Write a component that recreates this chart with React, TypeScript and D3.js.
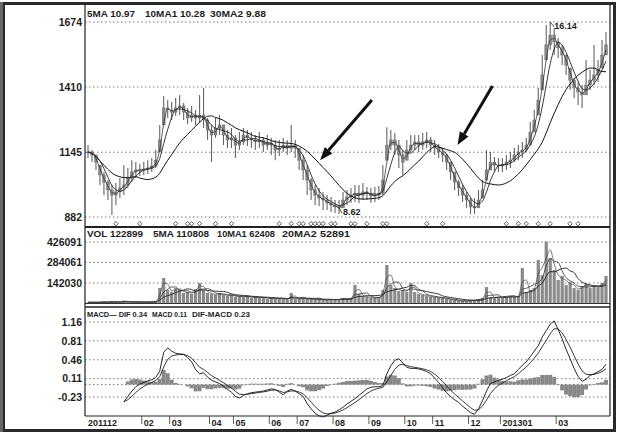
import React from 'react';
import * as d3 from 'd3';

// ---------- data ----------
const closes = [
  11.46, 11.34, 11.05, 10.53, 10.24, 9.92, 9.71, 9.84, 10.0, 10.12,
  10.4, 10.65, 10.73, 10.73, 10.77, 10.81, 10.89, 11.13, 11.95, 13.25,
  13.17, 13.08, 13.25, 13.33, 13.08, 12.84, 12.96, 12.84, 12.96, 12.76,
  12.35, 12.15, 12.43, 12.56, 12.15, 11.95, 12.03, 11.74, 11.87, 12.15,
  12.03, 11.95, 11.87, 11.95, 11.74, 11.83, 11.74, 11.54, 11.62, 11.74,
  11.62, 11.74, 11.62, 11.13, 10.73, 10.32, 9.92, 9.71, 9.59, 9.51,
  9.39, 9.31, 9.23, 9.19, 9.51, 9.63, 9.71, 9.79, 9.71, 9.84,
  9.79, 9.67, 9.71, 9.79, 10.32, 11.74, 11.95, 11.74, 11.34, 11.05,
  11.54, 11.74, 11.87, 11.74, 11.87, 11.95, 11.74, 11.62, 11.46, 11.34,
  11.05, 10.65, 10.24, 10.0, 9.71, 9.51, 9.23, 9.19, 9.51, 9.92,
  10.73, 11.05, 10.93, 10.89, 10.93, 11.05, 11.13, 11.34, 11.46, 11.54,
  11.74, 12.27, 12.76, 13.57, 14.59, 15.81, 16.21, 15.93, 15.69, 15.4,
  14.99, 14.38, 14.06, 13.9, 13.78, 14.18, 14.38, 14.59, 14.79, 15.4, 15.81,
];
const highs = [
  11.74, 11.54, 11.34, 10.93, 10.65, 10.32, 10.12, 10.2, 10.4, 10.93,
  10.81, 11.13, 11.05, 10.97, 11.05, 11.13, 11.22, 11.54, 12.56, 13.73,
  13.57, 13.49, 13.65, 13.78, 13.45, 13.25, 13.33, 13.17, 13.78, 14.06,
  12.84, 12.56, 12.84, 12.96, 12.56, 12.35, 12.43, 12.15, 12.27, 12.43,
  12.35, 12.27, 12.15, 12.27, 12.07, 12.15, 12.03, 11.95, 11.95, 12.03,
  11.95, 12.56, 11.95, 11.62, 11.34, 10.93, 10.4, 10.12, 10.0, 9.84,
  9.71, 9.63, 9.51, 9.51, 9.84, 9.92, 10.0, 10.12, 10.12, 10.2,
  10.04, 10.0, 10.04, 10.08, 10.93, 12.47, 12.35, 12.23, 11.95, 11.54,
  11.95, 12.15, 12.15, 12.15, 12.23, 12.27, 12.07, 11.95, 11.79, 11.62,
  11.38, 11.05, 10.65, 10.32, 10.12, 9.84, 9.59, 9.59, 9.92, 10.32,
  11.54, 11.46, 11.26, 11.22, 11.22, 11.34, 11.46, 11.62, 11.74, 11.87,
  12.03, 12.68, 13.17, 14.06, 15.4, 16.62, 16.74, 16.5, 16.09, 15.81,
  15.4, 14.87, 14.47, 14.3, 14.18, 15.2, 14.79, 15.81, 15.2, 16.01, 16.33,
];
const lows = [
  11.22, 11.05, 10.73, 10.12, 9.71, 9.51, 8.9, 9.31, 9.59, 9.71,
  10.0, 10.24, 10.4, 10.49, 10.53, 10.57, 10.65, 10.81, 11.46, 12.56,
  12.84, 12.76, 12.92, 12.96, 12.76, 12.6, 12.68, 12.56, 12.64, 12.43,
  11.95, 11.05, 12.03, 12.15, 11.74, 11.62, 11.62, 11.22, 11.54, 11.74,
  11.7, 11.62, 11.54, 11.62, 11.46, 11.54, 11.34, 11.13, 11.3, 11.46,
  11.34, 11.46, 11.22, 10.73, 10.32, 9.71, 9.51, 9.31, 9.27, 9.1,
  9.1, 9.02, 8.98, 8.94, 9.19, 9.31, 9.39, 9.43, 9.39, 9.51,
  9.51, 9.39, 9.43, 9.51, 9.71, 11.13, 11.54, 11.34, 10.81, 10.53,
  11.13, 11.46, 11.54, 11.46, 11.54, 11.62, 11.46, 11.34, 11.22, 11.05,
  10.73, 10.32, 9.92, 9.67, 9.43, 9.19, 8.94, 8.94, 9.19, 9.59,
  10.32, 10.73, 10.65, 10.65, 10.65, 10.73, 10.81, 11.05, 11.13, 11.22,
  11.46, 11.74, 12.27, 12.96, 13.98, 15.2, 15.6, 15.4, 15.28, 14.99,
  14.59, 13.98, 13.65, 13.37, 13.25, 13.78, 13.98, 14.18, 14.3, 14.87, 15.4,
];
const volumes = [
  8000, 9000, 7000, 10000, 12000, 9000, 15000, 11000, 9000, 20000,
  10000, 9000, 8000, 11000, 9000, 10000, 12000, 15000, 107000, 177000,
  94000, 80000, 107000, 94000, 73000, 80000, 66000, 100000, 142000, 94000,
  73000, 66000, 59000, 73000, 59000, 52000, 59000, 45000, 52000, 45000,
  52000, 38000, 45000, 38000, 45000, 31000, 38000, 31000, 38000, 31000,
  24000, 73000, 31000, 31000, 38000, 31000, 31000, 24000, 31000, 24000,
  24000, 31000, 24000, 31000, 38000, 31000, 38000, 128000, 66000, 52000,
  45000, 38000, 38000, 45000, 94000, 267000, 128000, 107000, 87000, 94000,
  80000, 142000, 80000, 66000, 59000, 52000, 45000, 45000, 38000, 38000,
  31000, 24000, 24000, 17000, 17000, 17000, 24000, 24000, 31000, 38000,
  114000, 45000, 38000, 45000, 38000, 45000, 52000, 45000, 52000, 246000,
  80000, 94000, 107000, 301000, 197000, 430000, 315000, 232000, 163000, 191000,
  128000, 149000, 107000, 94000, 121000, 135000, 107000, 128000, 114000, 142000, 191000,
];
const difValues: (number | null)[] = [
  null, null, null, null, null, null, null, null, null,
  -0.32, -0.22, -0.12, -0.04, 0.01, 0.04, 0.07, 0.09, 0.13, 0.25, 0.6,
  0.68, 0.62, 0.58, 0.57, 0.56, 0.5, 0.42, 0.28, 0.2, 0.22,
  0.14, 0.08, 0.05, 0.02, -0.03, -0.09, -0.14, -0.22, -0.25, -0.2,
  -0.17, -0.15, -0.14, -0.13, -0.12, -0.1, -0.08, -0.09, -0.14, -0.19,
  -0.12, -0.09, -0.12, -0.17, -0.22, -0.35, -0.45, -0.53, -0.58, -0.6,
  -0.57, -0.53, -0.51, -0.47, -0.42, -0.36, -0.31, -0.26, -0.2, -0.14,
  -0.08, -0.05, -0.04, -0.04, -0.02, 0.2, 0.35, 0.45, 0.48, 0.4,
  0.32, 0.3, 0.3, 0.29, 0.27, 0.24, 0.2, 0.12, 0.04, -0.06,
  -0.15, -0.22, -0.28, -0.33, -0.4, -0.46, -0.52, -0.55, -0.45, -0.3,
  -0.12, 0.02, 0.05, 0.08, 0.1, 0.13, 0.17, 0.2, 0.28, 0.36,
  0.42, 0.52, 0.62, 0.72, 0.88, 1.0, 1.12, 1.18, 1.02, 0.85,
  0.65, 0.48, 0.3, 0.15, 0.06, 0.1, 0.17, 0.2, 0.24, 0.28, 0.38,
];
const signalIdx = [7, 13, 22, 25, 26, 28, 32, 36, 48, 51, 53, 54, 56, 57, 58, 59, 61, 62, 66, 67, 70, 74, 75, 85, 89, 105, 108, 110, 113, 116, 121, 123];

const priceTicks = [16.74, 14.1, 11.45, 8.82];
const priceTickLabels = ['1674', '1410', '1145', '882'];
const volTicks = [426091, 284061, 142030];
const volTickLabels = ['426091', '284061', '142030'];
const macdTicks = [1.16, 0.81, 0.46, 0.11, -0.23];
const macdTickLabels = ['1.16', '0.81', '0.46', '0.11', '-0.23'];
const monthIdx = [0, 14, 21, 31, 37, 46, 53, 62, 71, 80, 87, 96, 104, 118];
const monthLabels = ['201112', '02', '03', '04', '05', '06', '07', '08', '09', '10', '11', '12', '201301', '03'];

const priceLegend = ['5MA 10.97', '10MA1 10.28', '30MA2 9.88'];
const volLegend = ['VOL 122899', '5MA 110808', '10MA1 62408', '20MA2 52891'];
const macdLegend = ['MACD— DIF 0.34', 'MACD 0.11', 'DIF-MACD 0.23'];

// annotation arrows in data space: [fromIndex, fromPrice, toIndex, toPrice]
const arrows = [
  [71.25, 13.57, 58.25, 11.13],
  [101.5, 14.14, 92.75, 11.74],
];
const highMarkIdx = 116;
const highMarkLabel = '16.14';
const lowMarkIdx = 63;
const lowMarkLabel = '8.62';

// ---------- helpers ----------
const ma = (arr: number[], n: number) =>
  arr.map((_, i) => d3.mean(arr.slice(Math.max(0, i - n + 1), i + 1)) as number);

const dea: (number | null)[] = (() => {
  let prev: number | null = null;
  return difValues.map((v) => {
    if (v == null) return null;
    prev = prev == null ? v : prev + 0.4 * (v - prev);
    return prev;
  });
})();
const hist = difValues.map((v, i) => (v == null ? null : v - (dea[i] as number)));

const FONT = '"Liberation Sans", Arial, sans-serif';
const INK = '#1e1e1e';

export default function App() {
  const L = 85, R = 610;
  const x = d3.scaleLinear().domain([0, closes.length - 1]).range([88, 606]);
  const yP = d3.scaleLinear().domain([8.82, 16.74]).range([217, 22]);
  const yV = d3.scaleLinear().domain([0, 426091]).range([303.5, 242]);
  const yM = d3.scaleLinear().domain([-0.23, 1.16]).range([397, 322]);

  const ma5 = ma(closes, 2), ma10 = ma(closes, 4), ma30 = ma(closes, 13);
  const vma5 = ma(volumes, 2), vma10 = ma(volumes, 4), vma20 = ma(volumes, 8);

  const lineP = d3.line<number>().x((_, i) => x(i)).y((d) => yP(d)).curve(d3.curveMonotoneX);
  const lineV = d3.line<number>().x((_, i) => x(i)).y((d) => yV(d)).curve(d3.curveMonotoneX);
  const lineM = d3.line<number | null>().defined((d) => d != null).x((_, i) => x(i)).y((d) => yM(d as number));

  const grid = (y: number, key: string) => (
    <line key={key} x1={L} x2={R} y1={y} y2={y} stroke="#555" strokeWidth={0.8} strokeDasharray="1.5,2.5" />
  );

  const arrowEls = arrows.map(([i0, p0, i1, p1], k) => {
    const x0 = x(i0), y0 = yP(p0), x1 = x(i1), y1 = yP(p1);
    const ang = Math.atan2(y1 - y0, x1 - x0);
    const len = 13, hw = 5;
    const bx = x1 - len * Math.cos(ang), by = y1 - len * Math.sin(ang);
    const pts = [
      [x1, y1],
      [bx + hw * Math.sin(ang), by - hw * Math.cos(ang)],
      [bx - hw * Math.sin(ang), by + hw * Math.cos(ang)],
    ];
    return (
      <g key={'a' + k}>
        <line x1={x0} y1={y0} x2={bx} y2={by} stroke="#111" strokeWidth={3} />
        <polygon points={pts.map((p) => p.join(',')).join(' ')} fill="#111" />
      </g>
    );
  });

  const legend = (items: string[], xs: number[], widths: number[], y: number, size: number, key: string) => (
    <g key={key} fontFamily={FONT} fontWeight="bold" fontSize={size} fill={INK}>
      {items.map((s, k) => (
        <text key={k} x={xs[k]} y={y} textLength={widths[k]} lengthAdjust="spacingAndGlyphs">{s}</text>
      ))}
    </g>
  );

  return (
    <svg width={620} height={440} style={{ position: 'absolute', left: 0, top: 0, background: '#fff' }}>
      <rect x={0} y={0} width={620} height={440} fill="#fff" />
      {/* outer frame */}
      <rect x={3.5} y={3.5} width={611} height={427} fill="none" stroke="#2a2a2a" strokeWidth={3} />
      <line x1={1.5} x2={1.5} y1={2} y2={432} stroke="#666" strokeWidth={3} />

      {/* gridlines */}
      {priceTicks.map((t, k) => grid(yP(t), 'gp' + k))}
      {volTicks.map((t, k) => grid(yV(t), 'gv' + k))}
      {macdTicks.map((t, k) => grid(yM(t), 'gm' + k))}
      {grid(yM(0), 'gm0')}

      {/* price bars */}
      <g>
        {closes.map((c, i) => {
          const o = Math.min(highs[i], Math.max(lows[i], i === 0 ? c : closes[i - 1]));
          return (
            <g key={i}>
              <line x1={x(i)} x2={x(i)} y1={yP(highs[i])} y2={yP(lows[i])} stroke="#666" strokeWidth={1.1} />
              <rect x={x(i) - 1.4} width={2.8} y={yP(Math.max(o, c))} height={Math.max(1, Math.abs(yP(o) - yP(c)))} fill="#888" stroke="#5a5a5a" strokeWidth={0.4} />
            </g>
          );
        })}
      </g>
      <path d={lineP(ma30) || ''} fill="none" stroke="#111" strokeWidth={1} />
      <path d={lineP(ma10) || ''} fill="none" stroke="#222" strokeWidth={0.9} />
      <path d={lineP(ma5) || ''} fill="none" stroke="#333" strokeWidth={0.8} />

      {arrowEls}

      {/* high / low marks */}
      <g fontFamily={FONT} fontSize={9} fontWeight="bold" fill={INK}>
        <line x1={x(highMarkIdx)} y1={yP(highs[highMarkIdx])} x2={x(highMarkIdx) + 4} y2={yP(highs[highMarkIdx]) + 5} stroke={INK} strokeWidth={0.8} />
        <text x={x(highMarkIdx) + 4} y={yP(highs[highMarkIdx]) + 7}>{highMarkLabel}</text>
        <line x1={x(lowMarkIdx)} y1={yP(lows[lowMarkIdx]) - 6} x2={x(lowMarkIdx) + 3} y2={yP(lows[lowMarkIdx]) - 1} stroke={INK} strokeWidth={0.8} />
        <text x={x(lowMarkIdx) + 4} y={yP(lows[lowMarkIdx]) + 1}>{lowMarkLabel}</text>
      </g>

      {/* signal diamonds */}
      {signalIdx.map((i, k) => (
        <path key={'s' + k} d={`M${x(i)},${221.5} l2.2,2.2 l-2.2,2.2 l-2.2,-2.2 Z`} fill="#fff" stroke="#333" strokeWidth={0.8} />
      ))}

      {/* volume */}
      {volumes.map((v, i) => (
        <rect key={'v' + i} x={x(i) - 1.6} width={3.2} y={yV(v)} height={yV(0) - yV(v)} fill="#8a8a8a" />
      ))}
      <path d={lineV(vma20) || ''} fill="none" stroke="#222" strokeWidth={0.9} />
      <path d={lineV(vma10) || ''} fill="none" stroke="#333" strokeWidth={0.8} />
      <path d={lineV(vma5) || ''} fill="none" stroke="#444" strokeWidth={0.7} />
      <line x1={L} x2={R} y1={yV(0)} y2={yV(0)} stroke="#333" strokeWidth={1} />

      {/* MACD */}
      {hist.map((h, i) =>
        h == null ? null : (
          <rect key={'h' + i} x={x(i) - 2} width={4} y={Math.min(yM(h), yM(0))} height={Math.abs(yM(h) - yM(0))} fill="#888" />
        ),
      )}
      <path d={lineM(dea) || ''} fill="none" stroke="#222" strokeWidth={0.9} />
      <path d={lineM(difValues) || ''} fill="none" stroke="#111" strokeWidth={0.9} />

      {/* panel borders */}
      <line x1={L} x2={L} y1={4} y2={416} stroke="#222" strokeWidth={1.2} />
      <line x1={R} x2={R} y1={4} y2={416} stroke="#222" strokeWidth={1.2} />
      <line x1={L} x2={R} y1={227} y2={227} stroke="#222" strokeWidth={1.8} />
      <line x1={L} x2={R} y1={307} y2={307} stroke="#222" strokeWidth={1.5} />
      <line x1={L} x2={R} y1={416} y2={416} stroke="#222" strokeWidth={1.2} />

      {/* legends */}
      {legend(priceLegend, [87, 145, 210], [48, 60, 56], 17, 9, 'lp')}
      {legend(volLegend, [87, 153, 217, 282], [56, 56, 58, 68], 237, 9, 'lv')}
      {legend(macdLegend, [87, 152, 192], [60, 35, 58], 317, 7.6, 'lm')}

      {/* y-axis labels */}
      <g fontFamily={FONT} fontWeight="bold" fontSize={10.5} fill={INK} textAnchor="end">
        {priceTicks.map((t, k) => (
          <text key={'tp' + k} x={82} y={yP(t) + 3.8}>{priceTickLabels[k]}</text>
        ))}
        {volTicks.map((t, k) => (
          <text key={'tv' + k} x={82} y={yV(t) + 3.8}>{volTickLabels[k]}</text>
        ))}
        {macdTicks.map((t, k) => (
          <text key={'tm' + k} x={82} y={yM(t) + 3.8}>{macdTickLabels[k]}</text>
        ))}
      </g>

      {/* x-axis months */}
      <g fontFamily={FONT} fontWeight="bold" fontSize={9} fill={INK}>
        {monthIdx.map((i, k) => (
          <g key={'mx' + k}>
            {k > 0 && <line x1={x(i) - 2} x2={x(i) - 2} y1={416} y2={424} stroke="#333" strokeWidth={0.8} />}
            <text x={x(i)} y={425.5}>{monthLabels[k]}</text>
          </g>
        ))}
      </g>
    </svg>
  );
}
